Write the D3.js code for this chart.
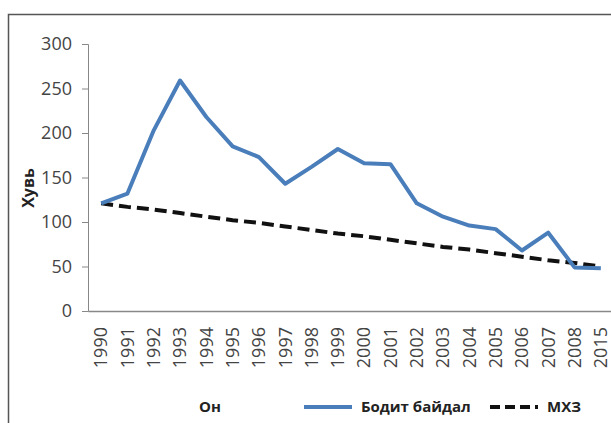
<!DOCTYPE html>
<html>
<head>
    <meta charset="utf-8">
    <title>Хувь</title>
    <script src="https://d3js.org/d3.v7.min.js"></script>
    <style>
        body { margin: 0; background: #fff; }
        svg { font-family: 'Open Sans', sans-serif; }
    </style>
</head>
<body>
<script>
// Data
const years = ['1990', '1991', '1992', '1993', '1994', '1995', '1996', '1997', '1998', '1999',
    '2000', '2001', '2002', '2003', '2004', '2005', '2006', '2007', '2008', '2015'];
const actual = [121, 132, 203, 259, 218, 185, 173, 143, 162, 182,
    166, 165, 121, 106, 96, 92, 68, 88, 49, 48];
const target = [121, 117, 114, 110, 106, 102, 99, 95, 91, 87,
    84, 80, 76, 72, 69, 65, 61, 57, 54, 50];
const yTicks = [0, 50, 100, 150, 200, 250, 300];

const W = 611, H = 423;
const margin = { top: 44, right: 0, bottom: 112, left: 88 };
const width = 526;
const height = H - margin.top - margin.bottom;

const svg = d3.select('body')
    .append('svg')
    .attr('width', W)
    .attr('height', H);

// outer frame
svg.append('path')
    .attr('d', `M8.5,${H} V14.5 H${W}`)
    .attr('fill', 'none')
    .attr('stroke', '#555')
    .attr('stroke-width', 1.5);

const g = svg.append('g')
    .attr('transform', `translate(${margin.left},${margin.top})`);

const x = d3.scaleBand()
    .domain(years)
    .range([0, width]);

const y = d3.scaleLinear()
    .domain([0, 300])
    .range([height, 0]);

// y axis
const yAxis = g.append('g')
    .call(d3.axisLeft(y).tickValues(yTicks).tickSize(6).tickPadding(10));
yAxis.selectAll('path, line').attr('stroke', '#888');
yAxis.selectAll('text')
    .attr('fill', '#444')
    .style('font-size', '18px')
    .style('font-family', 'Open Sans, sans-serif');

// x axis
const xAxis = g.append('g')
    .attr('transform', `translate(0,${height})`)
    .call(d3.axisBottom(x).tickSize(0).tickPadding(0));
xAxis.select('.domain').attr('stroke', '#888').attr('stroke-width', 1.5);
xAxis.selectAll('text')
    .attr('fill', '#444')
    .style('font-size', '18px')
    .style('font-family', 'Open Sans, sans-serif')
    .attr('transform', 'rotate(-90)')
    .attr('text-anchor', 'end')
    .attr('x', -16)
    .attr('y', 0)
    .attr('dy', '0.35em');

const cx = d => x(d) + x.bandwidth() / 2;

// target (dashed)
g.append('path')
    .datum(target)
    .attr('fill', 'none')
    .attr('stroke', '#111')
    .attr('stroke-width', 4)
    .attr('stroke-dasharray', '12,6')
    .attr('d', d3.line().x((d, i) => cx(years[i])).y(d => y(d)));

// actual
g.append('path')
    .datum(actual)
    .attr('fill', 'none')
    .attr('stroke', '#4a7ebb')
    .attr('stroke-width', 4)
    .attr('stroke-linejoin', 'round')
    .attr('d', d3.line().x((d, i) => cx(years[i])).y(d => y(d)));

// y axis title
svg.append('text')
    .attr('transform', 'translate(34,188) rotate(-90)')
    .attr('text-anchor', 'middle')
    .attr('fill', '#222')
    .style('font-size', '16px')
    .style('font-weight', 'bold')
    .text('Хувь');

// x axis title
svg.append('text')
    .attr('x', 210)
    .attr('y', 412)
    .attr('text-anchor', 'middle')
    .attr('fill', '#222')
    .style('font-size', '15px')
    .style('font-weight', 'bold')
    .text('Он');

// legend
const legend = [
    { label: 'Бодит байдал', color: '#4a7ebb', dash: null, x: 304 },
    { label: 'МХЗ', color: '#111', dash: '10,5', x: 490 }
];
legend.forEach(l => {
    svg.append('line')
        .attr('x1', l.x).attr('x2', l.x + 48)
        .attr('y1', 407).attr('y2', 407)
        .attr('stroke', l.color)
        .attr('stroke-width', 4)
        .attr('stroke-dasharray', l.dash);
    svg.append('text')
        .attr('x', l.x + 57)
        .attr('y', 412)
        .attr('fill', '#222')
        .style('font-size', '15px')
        .style('font-weight', 'bold')
        .text(l.label);
});
</script>
</body>
</html>
